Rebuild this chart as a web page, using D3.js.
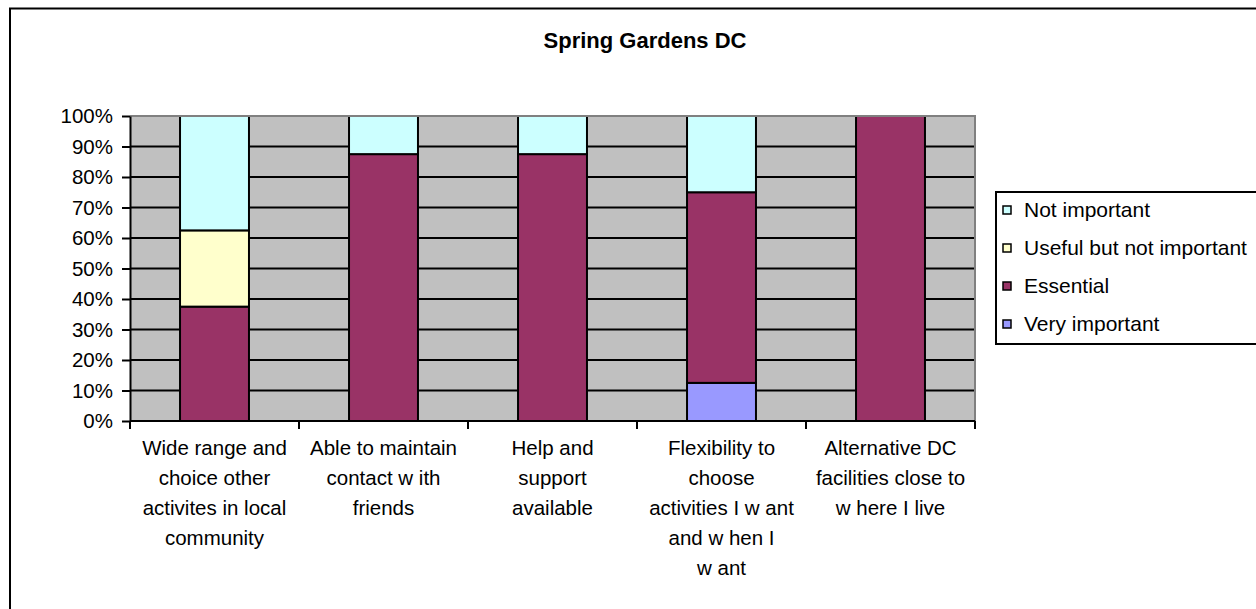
<!DOCTYPE html>
<html>
<head>
<meta charset="utf-8">
<script src="https://cdn.jsdelivr.net/npm/d3@7"></script>
<style>
  body { margin: 0; background: #fff; }
  svg text { font-family: Arial, "Liberation Sans", sans-serif; fill: #000; }
</style>
</head>
<body>
<svg id="chart"></svg>
<script>
// Chart data (percent of responses per category)
const categories = [
  ['Wide range and', 'choice other', 'activites in local', 'community'],
  ['Able to maintain', 'contact w ith', 'friends'],
  ['Help and', 'support', 'available'],
  ['Flexibility to', 'choose', 'activities I w ant', 'and w hen I', 'w ant'],
  ['Alternative DC', 'facilities close to', 'w here I live']
];
const seriesNames = ['Very important', 'Essential', 'Useful but not important', 'Not important'];
const veryImportant = [0, 0, 0, 12.5, 0];
const essential = [37.5, 87.5, 87.5, 62.5, 100];
const usefulNotImportant = [25, 0, 0, 0, 0];
const notImportant = [37.5, 12.5, 12.5, 25, 0];
const yTicks = [0, 10, 20, 30, 40, 50, 60, 70, 80, 90, 100];
const chartTitle = 'Spring Gardens DC';

const colors = {
  'Very important': '#9999FF',
  'Essential': '#993366',
  'Useful but not important': '#FFFFCC',
  'Not important': '#CCFFFF'
};

class StackedBarChart {

  constructor(_config, _data) {
    this.config = {
      parentElement: _config.parentElement,
      containerWidth: _config.containerWidth || 1256,
      containerHeight: _config.containerHeight || 609,
      margin: _config.margin || {top: 116, right: 281, bottom: 188, left: 130}
    }
    this.data = _data;
    this.initVis();
  }

  initVis() {
    let vis = this;

    vis.width = vis.config.containerWidth - vis.config.margin.left - vis.config.margin.right;
    vis.height = vis.config.containerHeight - vis.config.margin.top - vis.config.margin.bottom;

    vis.xScale = d3.scaleBand()
        .domain(d3.range(categories.length))
        .range([0, vis.width])
        .paddingInner(0.592)
        .paddingOuter(0.296);

    vis.yScale = d3.scaleLinear()
        .domain([0, 100])
        .range([vis.height, 0]);

    vis.svg = d3.select(vis.config.parentElement)
        .attr('width', vis.config.containerWidth)
        .attr('height', vis.config.containerHeight);

    // outer chart frame (runs off the right / bottom edge like the original crop)
    vis.svg.append('rect')
        .attr('x', 10)
        .attr('y', 8.5)
        .attr('width', 1400)
        .attr('height', 800)
        .attr('fill', '#fff')
        .attr('stroke', '#000')
        .attr('stroke-width', 2);

    vis.svg.append('text')
        .attr('x', 645)
        .attr('y', 48)
        .attr('text-anchor', 'middle')
        .style('font-size', '22px')
        .style('font-weight', 'bold')
        .text(chartTitle);

    vis.chart = vis.svg.append('g')
        .attr('transform', `translate(${vis.config.margin.left},${vis.config.margin.top})`);

    // plot area background
    vis.chart.append('rect')
        .attr('width', vis.width)
        .attr('height', vis.height)
        .attr('fill', '#C0C0C0');

    vis.gridG = vis.chart.append('g').attr('class', 'grid');
    vis.barsG = vis.chart.append('g').attr('class', 'bars');

    // plot border (grey top/right)
    vis.chart.append('path')
        .attr('d', `M0,0H${vis.width}V${vis.height}`)
        .attr('fill', 'none')
        .attr('stroke', '#808080')
        .attr('stroke-width', 2);

    vis.xAxisG = vis.chart.append('g')
        .attr('class', 'x-axis')
        .attr('transform', `translate(0,${vis.height})`);

    vis.yAxisG = vis.chart.append('g')
        .attr('class', 'y-axis');

    vis.legendG = vis.svg.append('g')
        .attr('class', 'legend')
        .attr('transform', 'translate(996,192)');
  }

  updateVis() {
    let vis = this;

    vis.stack = d3.stack()
        .keys(seriesNames);
    vis.stacked = vis.stack(vis.data);

    vis.renderVis();
  }

  renderVis() {
    let vis = this;

    // horizontal gridlines
    vis.gridG.selectAll('line')
        .data(yTicks.slice(1))
      .join('line')
        .attr('x1', 0)
        .attr('x2', vis.width)
        .attr('y1', d => vis.yScale(d))
        .attr('y2', d => vis.yScale(d))
        .attr('stroke', '#000')
        .attr('stroke-width', 2);

    vis.barsG.selectAll('.series')
        .data(vis.stacked)
      .join('g')
        .attr('class', 'series')
        .attr('fill', d => colors[d.key])
      .selectAll('rect')
        .data(d => d.filter(s => s[1] - s[0] > 0))
      .join('rect')
        .attr('x', d => vis.xScale(d.data.index))
        .attr('y', d => vis.yScale(d[1]))
        .attr('width', vis.xScale.bandwidth())
        .attr('height', d => vis.yScale(d[0]) - vis.yScale(d[1]))
        .attr('stroke', '#000')
        .attr('stroke-width', 2);

    // y axis
    vis.yAxis = d3.axisLeft(vis.yScale)
        .tickValues(yTicks)
        .tickFormat(d => d + '%')
        .tickSize(8)
        .tickSizeOuter(0)
        .tickPadding(9);
    vis.yAxisG.call(vis.yAxis);
    vis.yAxisG.select('.domain').attr('stroke', '#000').attr('stroke-width', 2);
    vis.yAxisG.selectAll('.tick line').attr('stroke', '#000').attr('stroke-width', 2);
    vis.yAxisG.selectAll('.tick text')
        .style('font-size', '20.5px')
        .attr('font-family', null);

    // x axis: ticks between categories
    const step = vis.xScale.step();
    vis.xAxisG.append('line')
        .attr('x1', 0).attr('x2', vis.width)
        .attr('stroke', '#000').attr('stroke-width', 2);
    vis.xAxisG.selectAll('.xtick')
        .data(d3.range(categories.length + 1))
      .join('line')
        .attr('class', 'xtick')
        .attr('x1', d => d * step)
        .attr('x2', d => d * step)
        .attr('y1', 0)
        .attr('y2', 8)
        .attr('stroke', '#000')
        .attr('stroke-width', 2);

    vis.xAxisG.selectAll('.xlabel')
        .data(categories)
      .join('text')
        .attr('class', 'xlabel')
        .attr('text-anchor', 'middle')
        .attr('transform', (d, i) => `translate(${vis.xScale(i) + vis.xScale.bandwidth() / 2},34)`)
        .style('font-size', '20.5px')
      .selectAll('tspan')
        .data(d => d)
      .join('tspan')
        .attr('x', 0)
        .attr('dy', (d, i) => i === 0 ? 0 : 30)
        .text(d => d);

    // legend (top to bottom reverses the stack)
    vis.legendG.append('rect')
        .attr('width', 400)
        .attr('height', 152)
        .attr('fill', '#fff')
        .attr('stroke', '#000')
        .attr('stroke-width', 2);

    const items = vis.legendG.selectAll('.item')
        .data(seriesNames.slice().reverse())
      .join('g')
        .attr('class', 'item')
        .attr('transform', (d, i) => `translate(0,${18 + i * 38})`);

    items.append('rect')
        .attr('x', 7)
        .attr('y', -4)
        .attr('width', 8)
        .attr('height', 8)
        .attr('fill', d => colors[d])
        .attr('stroke', '#000')
        .attr('stroke-width', 1.5);

    items.append('text')
        .attr('x', 28)
        .attr('dy', '0.35em')
        .style('font-size', '21px')
        .text(d => d);
  }
}

const tableData = categories.map((c, i) => ({
  index: i,
  'Very important': veryImportant[i],
  'Essential': essential[i],
  'Useful but not important': usefulNotImportant[i],
  'Not important': notImportant[i]
}));

const chart = new StackedBarChart({parentElement: '#chart'}, tableData);
chart.updateVis();
</script>
</body>
</html>
